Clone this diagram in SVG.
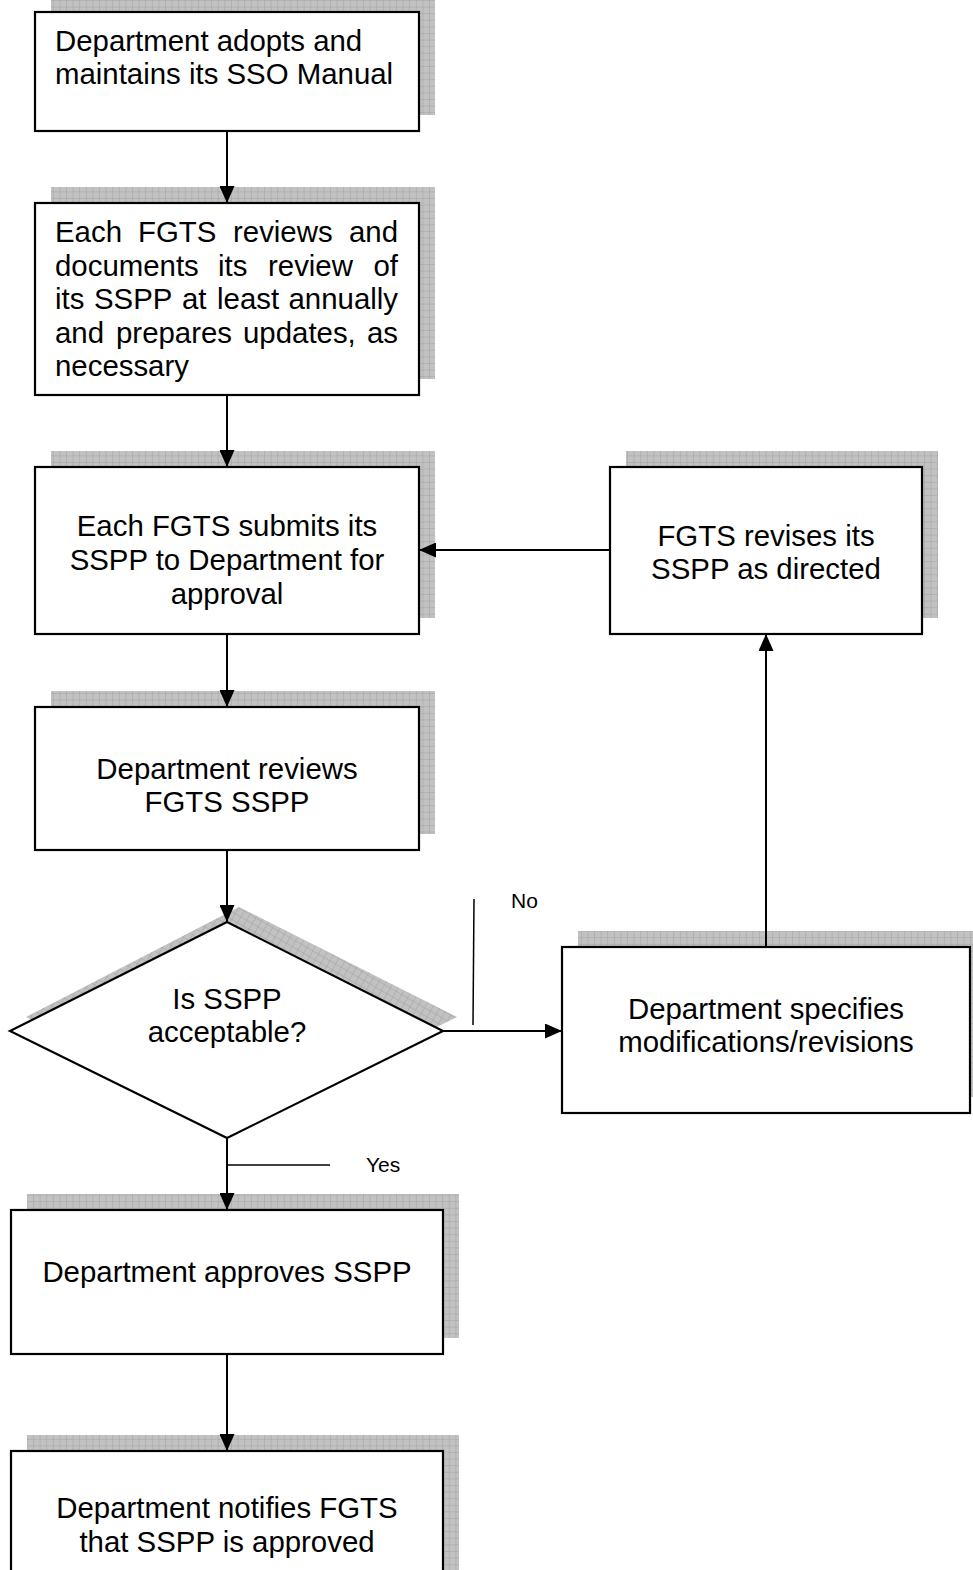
<svg xmlns="http://www.w3.org/2000/svg" width="973" height="1570" viewBox="0 0 973 1570">
<style>
.box{fill:#fff;stroke:#000;stroke-width:2.2}
.sh{fill:url(#shade)}
.t{font-family:"Liberation Sans",Arial,sans-serif;font-size:29.4px;fill:#000}
.c{text-anchor:middle}
.e{text-anchor:end}
.lbl{font-family:"Liberation Sans",Arial,sans-serif;font-size:21px;fill:#000}
.con{fill:none;stroke:#000;stroke-width:2}
.thin{fill:none;stroke:#000;stroke-width:1.5}
</style>
<defs>
<pattern id="shade" width="6.6" height="6.6" patternUnits="userSpaceOnUse">
<rect width="6.6" height="6.6" fill="#c2c2c2"/>
<path d="M0,0H6.6M0,0V6.6" stroke="#a0a0a0" stroke-width="1"/>
</pattern>
<pattern id="shadeD" width="6.6" height="6.6" patternUnits="userSpaceOnUse" patternTransform="rotate(30)">
<rect width="6.6" height="6.6" fill="#c2c2c2"/>
<path d="M0,0H6.6M0,0V6.6" stroke="#a0a0a0" stroke-width="1"/>
</pattern>
<marker id="arr" markerUnits="userSpaceOnUse" markerWidth="17" markerHeight="15" refX="17" refY="7.5" orient="auto">
<path d="M0,0L17,7.5L0,15z" fill="#000"/>
</marker>
</defs>

<g id="n1">
<rect class="sh" x="51" y="-4" width="384" height="119"/>
<rect class="box" x="35" y="12" width="384" height="119"/>
<text class="t" x="55" y="51">Department adopts and</text>
<text class="t" x="55" y="84">maintains its SSO Manual</text>
</g>

<g id="n2">
<rect class="sh" x="51" y="187" width="384" height="192"/>
<rect class="box" x="35" y="203" width="384" height="192"/>
<text class="t" y="242"><tspan x="55">Each</tspan><tspan x="138">FGTS</tspan><tspan x="233">reviews</tspan><tspan class="e" x="398">and</tspan></text>
<text class="t" y="275.5"><tspan x="55">documents</tspan><tspan x="218">its</tspan><tspan x="268">review</tspan><tspan class="e" x="398">of</tspan></text>
<text class="t" y="309"><tspan x="55">its</tspan><tspan x="94">SSPP</tspan><tspan x="182">at</tspan><tspan x="217">least</tspan><tspan class="e" x="398">annually</tspan></text>
<text class="t" y="342.5"><tspan x="55">and</tspan><tspan x="116">prepares</tspan><tspan x="243">updates,</tspan><tspan class="e" x="398">as</tspan></text>
<text class="t" x="55" y="376">necessary</text>
</g>

<g id="n3">
<rect class="sh" x="51" y="451" width="384" height="167"/>
<rect class="box" x="35" y="467" width="384" height="167"/>
<text class="t c" x="227" y="536">Each FGTS submits its</text>
<text class="t c" x="227" y="570">SSPP to Department for</text>
<text class="t c" x="227" y="604">approval</text>
</g>

<g id="n4">
<rect class="sh" x="51" y="691" width="384" height="143"/>
<rect class="box" x="35" y="707" width="384" height="143"/>
<text class="t c" x="227" y="779">Department reviews</text>
<text class="t c" x="227" y="812">FGTS SSPP</text>
</g>

<g id="n5">
<polygon points="26,1017 239,907 457,1017 241,1124" fill="url(#shadeD)"/>
<polygon class="box" points="10,1031 227,922 443,1031 227,1138"/>
<text class="t c" x="227" y="1009">Is SSPP</text>
<text class="t c" x="227" y="1042">acceptable?</text>
</g>

<g id="n6">
<rect class="sh" x="626" y="451" width="312" height="167"/>
<rect class="box" x="610" y="467" width="312" height="167"/>
<text class="t c" x="766" y="546">FGTS revises its</text>
<text class="t c" x="766" y="579">SSPP as directed</text>
</g>

<g id="n7">
<rect class="sh" x="578" y="931" width="408" height="166"/>
<rect class="box" x="562" y="947" width="408" height="166"/>
<text class="t c" x="766" y="1019">Department specifies</text>
<text class="t c" x="766" y="1052">modifications/revisions</text>
</g>

<g id="n8">
<rect class="sh" x="27" y="1194" width="432" height="144"/>
<rect class="box" x="11" y="1210" width="432" height="144"/>
<text class="t c" x="227" y="1282">Department approves SSPP</text>
</g>

<g id="n9">
<rect class="sh" x="27" y="1435" width="432" height="150"/>
<rect class="box" x="11" y="1451" width="432" height="140"/>
<text class="t c" x="227" y="1518">Department notifies FGTS</text>
<text class="t c" x="227" y="1552">that SSPP is approved</text>
</g>

<g id="connectors">
<line class="con" x1="227" y1="131" x2="227" y2="203" marker-end="url(#arr)"/>
<line class="con" x1="227" y1="395" x2="227" y2="467" marker-end="url(#arr)"/>
<line class="con" x1="227" y1="634" x2="227" y2="707" marker-end="url(#arr)"/>
<line class="con" x1="227" y1="850" x2="227" y2="922" marker-end="url(#arr)"/>
<line class="con" x1="443" y1="1031" x2="562" y2="1031" marker-end="url(#arr)"/>
<line class="con" x1="766" y1="947" x2="766" y2="634" marker-end="url(#arr)"/>
<line class="con" x1="610" y1="550" x2="419" y2="550" marker-end="url(#arr)"/>
<line class="con" x1="227" y1="1138" x2="227" y2="1210" marker-end="url(#arr)"/>
<line class="con" x1="227" y1="1354" x2="227" y2="1451" marker-end="url(#arr)"/>
<line class="thin" x1="474" y1="899" x2="473" y2="1025"/>
<line class="thin" x1="227" y1="1165" x2="330" y2="1165"/>
<text class="lbl" x="511" y="908">No</text>
<text class="lbl" x="366" y="1172">Yes</text>
</g>
</svg>
